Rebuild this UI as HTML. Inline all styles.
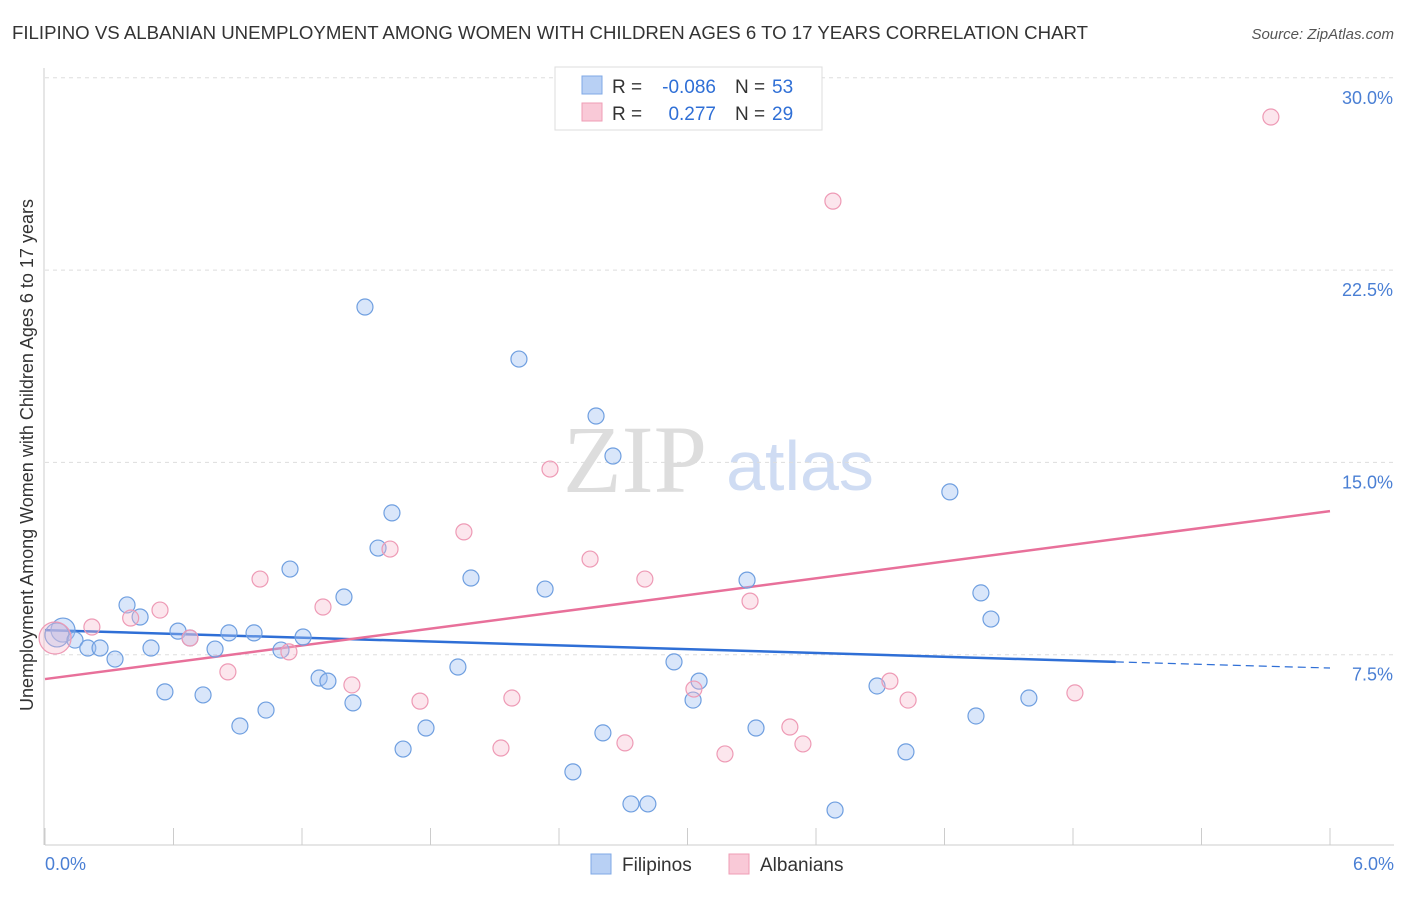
<!DOCTYPE html>
<html><head><meta charset="utf-8"><style>
body{margin:0;background:#fff;font-family:"Liberation Sans",sans-serif;}
</style></head><body>
<svg width="1406" height="892" xmlns="http://www.w3.org/2000/svg" style="font-family:'Liberation Sans',sans-serif">
<text x="12" y="39" font-size="18" fill="#333" textLength="1076" lengthAdjust="spacingAndGlyphs">FILIPINO VS ALBANIAN UNEMPLOYMENT AMONG WOMEN WITH CHILDREN AGES 6 TO 17 YEARS CORRELATION CHART</text>
<text x="1394" y="39" font-size="15" fill="#555" text-anchor="end" font-style="italic">Source: ZipAtlas.com</text>
<g>
<text x="635" y="492" font-size="96" fill="#ddd" text-anchor="middle" font-family="Liberation Serif,serif">ZIP</text>
<text x="800" y="490" font-size="70" fill="#cfdcf3" text-anchor="middle">atlas</text>
</g>
<g id="grid"></g>
<g id="axes"></g>
<g id="lines"></g>
<g id="pts"></g>
<text x="33" y="455" font-size="18" fill="#333" text-anchor="middle" transform="rotate(-90 33 455)">Unemployment Among Women with Children Ages 6 to 17 years</text>
<text x="45" y="870" font-size="18" fill="#4a7fd4">0.0%</text>
<text x="1394" y="870" font-size="18" fill="#4a7fd4" text-anchor="end">6.0%</text>
<g font-size="19">
<rect x="555" y="67" width="267" height="63" fill="#fff" stroke="#ddd"/>
<rect x="582" y="76" width="20" height="18" fill="#b8d0f4" stroke="#7fa8e6"/>
<rect x="582" y="103" width="20" height="18" fill="#f9c9d7" stroke="#ef9db6"/>
<text x="612" y="93" fill="#333">R =</text>
<text x="716" y="93" fill="#2f6fd6" text-anchor="end">-0.086</text>
<text x="735" y="93" fill="#333">N =</text>
<text x="772" y="93" fill="#2f6fd6">53</text>
<text x="612" y="120" fill="#333">R =</text>
<text x="716" y="120" fill="#2f6fd6" text-anchor="end">0.277</text>
<text x="735" y="120" fill="#333">N =</text>
<text x="772" y="120" fill="#2f6fd6">29</text>
</g>
<g>
<rect x="591" y="854" width="20" height="20" fill="#b8d0f4" stroke="#7fa8e6"/>
<text x="622" y="871" font-size="19" fill="#333">Filipinos</text>
<rect x="729" y="854" width="20" height="20" fill="#f9c9d7" stroke="#ef9db6"/>
<text x="760" y="871" font-size="19" fill="#333">Albanians</text>
</g>
</svg>
<script>
const yTicks=[7.5,15,22.5,30];
const yTickLabels=["7.5%","15.0%","22.5%","30.0%"];
const blueX=[0.084,0.056,0.14,0.20,0.257,0.327,0.383,0.444,0.495,0.56,0.621,0.677,0.738,0.794,0.859,0.91,0.976,1.032,1.102,1.144,1.205,1.28,1.321,1.396,1.438,1.494,1.555,1.62,1.672,1.779,1.928,1.989,2.213,2.335,2.465,2.573,2.605,2.652,2.736,2.815,2.937,3.026,3.054,3.278,3.32,3.689,3.885,4.02,4.225,4.347,4.37,4.417,4.594];
const blueY=[8.46,8.27,8.07,7.76,7.76,7.33,9.44,8.97,7.76,6.05,8.42,8.15,5.93,7.72,8.35,4.72,8.35,5.34,7.68,10.84,8.19,6.59,6.47,9.75,5.62,21.06,11.66,13.03,3.82,4.64,7.02,10.49,19.03,10.06,2.93,16.81,4.45,15.25,1.68,1.68,7.22,5.73,6.47,10.41,4.64,1.44,6.28,3.71,13.85,5.11,9.91,8.89,5.81];
const pinkX=[0.047,0.219,0.40,0.537,0.677,0.854,1.004,1.139,1.298,1.433,1.611,1.751,1.956,2.129,2.18,2.358,2.545,2.708,2.801,3.03,3.175,3.292,3.478,3.539,3.679,3.945,4.03,4.809,5.724];
const pinkY=[8.15,8.58,8.93,9.24,8.15,6.83,10.45,7.61,9.36,6.32,11.62,5.69,12.29,3.86,5.81,14.74,11.23,4.06,10.45,6.16,3.63,9.59,4.68,4.02,25.19,6.47,5.73,6.01,28.47];
const blueTrend=[8.46,7.22,6.98]; // at x=0,5,6
const pinkTrend=[6.55,13.1]; // at x=0,6
const sx=v=>45+v/6*1285, sy=v=>847-v/7.5*192.3;
const NS="http://www.w3.org/2000/svg";
function mk(t,a,p){const e=document.createElementNS(NS,t);for(const k in a)e.setAttribute(k,a[k]);document.getElementById(p).appendChild(e);return e;}
yTicks.forEach((t,i)=>{
 const g=mk('line',{x1:45,x2:1394,y1:sy(t),y2:sy(t),stroke:'#ddd','stroke-dasharray':'4 4'},'grid');
 
 
 const l=mk('text',{x:1393,y:sy(t)+26,'font-size':18,fill:'#4a7fd4','text-anchor':'end'},'grid');
 l.textContent=yTickLabels[i];
 
 
});
const ax=mk('line',{x1:45,x2:1394,y1:845,y2:845,stroke:'#ccc'},'axes');


const ay=mk('line',{x1:44,x2:44,y1:68,y2:845,stroke:'#ccc'},'axes');


for(let i=0;i<=10;i++){const t=mk('line',{x1:sx(i*0.6),x2:sx(i*0.6),y1:828,y2:845,stroke:'#ccc'},'axes');
 
 }
const bl=mk('line',{x1:sx(0),y1:sy(blueTrend[0]),x2:sx(5),y2:sy(blueTrend[1]),stroke:'#2f6fd6','stroke-width':2.5},'lines');


const bd=mk('line',{x1:sx(5),y1:sy(blueTrend[1]),x2:sx(6),y2:sy(blueTrend[2]),stroke:'#2f6fd6','stroke-width':1.2,'stroke-dasharray':'8 5'},'lines');


const pl=mk('line',{x1:sx(0),y1:sy(pinkTrend[0]),x2:sx(6),y2:sy(pinkTrend[1]),stroke:'#e8709a','stroke-width':2.5},'lines');


blueX.forEach((x,i)=>{const c=mk('circle',{cx:sx(x),cy:sy(blueY[i]),r:i<2?12:8,fill:'rgba(160,192,242,0.4)',stroke:'#6f9fe0','stroke-width':1.2},'pts');
 
 });
pinkX.forEach((x,i)=>{const c=mk('circle',{cx:sx(x),cy:sy(pinkY[i]),r:i==0?16:8,fill:'rgba(246,182,202,0.35)',stroke:'#ee9ab5','stroke-width':1.2},'pts');
 
 });
</script>
</body></html>
